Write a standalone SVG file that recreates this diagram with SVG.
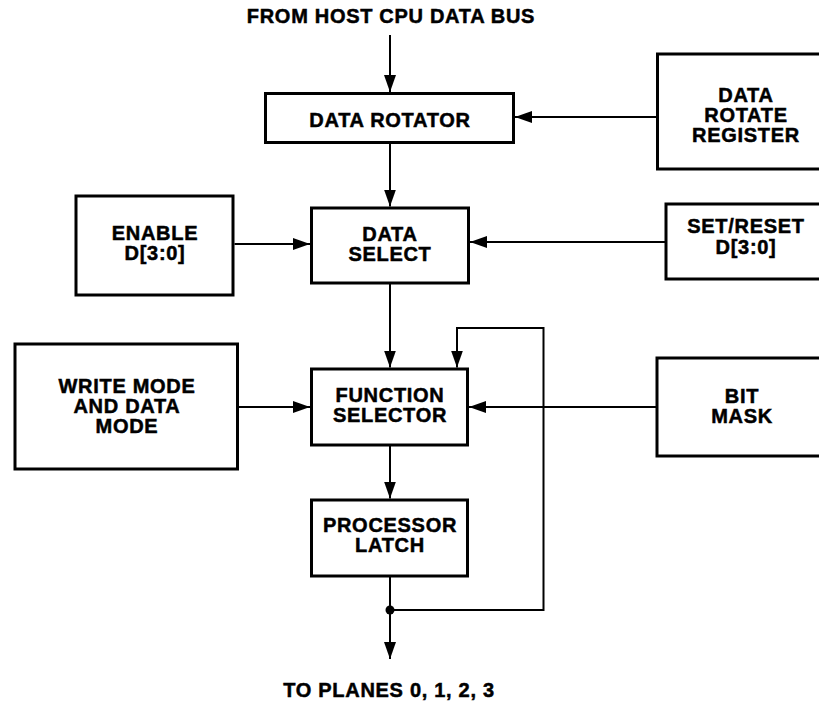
<svg xmlns="http://www.w3.org/2000/svg" width="819" height="705" viewBox="0 0 819 705">
  <style>
    .box { fill: #fff; stroke: #000; stroke-width: 3; }
    .wire { fill: none; stroke: #000; stroke-width: 2; }
    .lbl { font-family: "Liberation Sans", Arial, Helvetica, sans-serif; font-weight: bold; font-size: 20px; letter-spacing: 0.7px; text-anchor: middle; fill: #000; stroke: #000; stroke-width: 0.5px; }
  </style>
  <defs>
    <marker id="arrow" markerUnits="userSpaceOnUse" markerWidth="18" markerHeight="12" refX="17" refY="6" orient="auto">
      <path d="M0,0 L17,6 L0,12 Z" fill="#000"/>
    </marker>
  </defs>
  <rect width="819" height="705" fill="#fff"/>

  <!-- signal flow -->
  <g id="connectors">
    <line class="wire" x1="390" y1="35" x2="390" y2="92" marker-end="url(#arrow)"/>
    <line class="wire" x1="657.5" y1="117" x2="515" y2="117" marker-end="url(#arrow)"/>
    <line class="wire" x1="390" y1="143" x2="390" y2="206.5" marker-end="url(#arrow)"/>
    <line class="wire" x1="234.5" y1="244" x2="310" y2="244" marker-end="url(#arrow)"/>
    <line class="wire" x1="666" y1="242" x2="470" y2="242" marker-end="url(#arrow)"/>
    <line class="wire" x1="390" y1="283" x2="390" y2="367.5" marker-end="url(#arrow)"/>
    <line class="wire" x1="237.5" y1="407" x2="310" y2="407" marker-end="url(#arrow)"/>
    <line class="wire" x1="657" y1="407" x2="469" y2="407" marker-end="url(#arrow)"/>
    <line class="wire" x1="390" y1="445" x2="390" y2="498.5" marker-end="url(#arrow)"/>
    <line class="wire" x1="390" y1="576" x2="390" y2="659" marker-end="url(#arrow)"/>
    <path class="wire" d="M390,610 H543.5 V328 H457 V367.5" marker-end="url(#arrow)"/>
    <circle cx="390" cy="610" r="4.5" fill="#000"/>
  </g>

  <text class="lbl" x="391" y="23">FROM HOST CPU DATA BUS</text>
  <text class="lbl" x="389" y="697">TO PLANES 0, 1, 2, 3</text>

  <g id="data-rotator">
    <rect class="box" x="265.5" y="93.5" width="248" height="49"/>
    <text class="lbl" x="390" y="127">DATA ROTATOR</text>
  </g>

  <g id="data-rotate-register">
    <rect class="box" x="657.5" y="54" width="180" height="115"/>
    <text class="lbl" x="746" y="102">DATA</text>
    <text class="lbl" x="746" y="122">ROTATE</text>
    <text class="lbl" x="746" y="142">REGISTER</text>
  </g>

  <g id="enable">
    <rect class="box" x="76" y="196" width="157" height="99"/>
    <text class="lbl" x="155" y="240">ENABLE</text>
    <text class="lbl" x="155" y="260">D[3:0]</text>
  </g>

  <g id="data-select">
    <rect class="box" x="311.5" y="208" width="157" height="75"/>
    <text class="lbl" x="390" y="241">DATA</text>
    <text class="lbl" x="390" y="261">SELECT</text>
  </g>

  <g id="set-reset">
    <rect class="box" x="666" y="204" width="170" height="75"/>
    <text class="lbl" x="746" y="233">SET/RESET</text>
    <text class="lbl" x="746" y="254">D[3:0]</text>
  </g>

  <g id="write-mode">
    <rect class="box" x="15" y="344" width="222.5" height="125"/>
    <text class="lbl" x="127" y="393">WRITE MODE</text>
    <text class="lbl" x="127" y="413">AND DATA</text>
    <text class="lbl" x="127" y="433">MODE</text>
  </g>

  <g id="function-selector">
    <rect class="box" x="311.5" y="369" width="156" height="76"/>
    <text class="lbl" x="390" y="402">FUNCTION</text>
    <text class="lbl" x="390" y="422">SELECTOR</text>
  </g>

  <g id="bit-mask">
    <rect class="box" x="657" y="358" width="180" height="98"/>
    <text class="lbl" x="742" y="403">BIT</text>
    <text class="lbl" x="742" y="423">MASK</text>
  </g>

  <g id="processor-latch">
    <rect class="box" x="311.5" y="500" width="156" height="76"/>
    <text class="lbl" x="390" y="532">PROCESSOR</text>
    <text class="lbl" x="390" y="552">LATCH</text>
  </g>
</svg>
